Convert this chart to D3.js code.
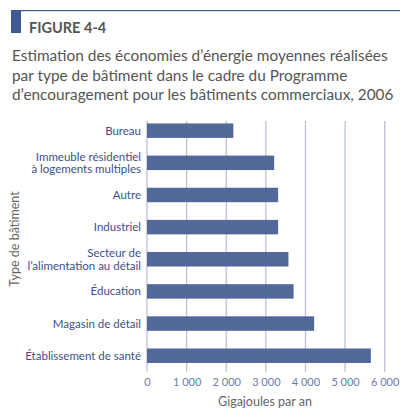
<!DOCTYPE html>
<html>
<head>
<meta charset="utf-8">
<script src="https://cdn.jsdelivr.net/npm/d3@7"></script>
<style>
  body { margin: 0; background: #fff; }
  svg { display: block; font-family: "Lato", "Open Sans", sans-serif; }
</style>
</head>
<body>
<div id="chart"></div>
<script>
// categories, top to bottom
var categories = [
  ["Bureau"],
  ["Immeuble résidentiel", "à logements multiples"],
  ["Autre"],
  ["Industriel"],
  ["Secteur de", "l’alimentation au détail"],
  ["Éducation"],
  ["Magasin de détail"],
  ["Établissement de santé"]
];
var savings = [2180, 3210, 3310, 3310, 3570, 3700, 4220, 5650];
var xTicks = [0, 1000, 2000, 3000, 4000, 5000, 6000];
var titleLines = [
  "Estimation des économies d’énergie moyennes réalisées",
  "par type de bâtiment dans le cadre du Programme",
  "d’encouragement pour les bâtiments commerciaux, 2006"
];

var width = 411, height = 419;
var svg = d3.select("#chart").append("svg")
  .attr("width", width)
  .attr("height", height);

// header
svg.append("rect").attr("x", 11).attr("y", 10).attr("width", 10).attr("height", 23).attr("fill", "#3f5a93");
svg.append("rect").attr("x", 21).attr("y", 10).attr("width", 379).attr("height", 1.2).attr("fill", "#3f5a93");
svg.append("text")
  .attr("x", 29).attr("y", 33)
  .attr("fill", "#555")
  .attr("font-size", 14.5)
  .attr("font-weight", 700)
  .text("FIGURE 4-4");

svg.append("g").selectAll("text")
  .data(titleLines)
  .join("text")
  .attr("x", 12)
  .attr("y", function(d, i) { return 61 + i * 19.5; })
  .attr("fill", "#555")
  .attr("font-size", 15)
  .text(function(d) { return d; })
  .each(function(d, i) {
    // keep the first line at the reference width
    if (i === 0) {
      var w = this.getComputedTextLength();
      var k = 376 / w;
      d3.select(this.parentNode).selectAll("text").attr("font-size", 15 * k);
    }
  });

var x = d3.scaleLinear().domain([0, 6000]).range([147, 384.7]);
var y = d3.scaleBand()
  .domain(d3.range(categories.length))
  .range([114.6, 371.8])
  .paddingInner(0.55)
  .paddingOuter(0.275);

// gridlines
svg.append("g").selectAll("line")
  .data(xTicks)
  .join("line")
  .attr("x1", function(d) { return x(d); })
  .attr("x2", function(d) { return x(d); })
  .attr("y1", 121)
  .attr("y2", 371.8)
  .attr("stroke", "#b9c1da")
  .attr("stroke-width", 1.3);

// bars
svg.append("g").selectAll("rect")
  .data(savings)
  .join("rect")
  .attr("x", x(0))
  .attr("y", function(d, i) { return y(i); })
  .attr("width", function(d) { return x(d) - x(0); })
  .attr("height", y.bandwidth())
  .attr("fill", "#526899");

// category labels
var labels = svg.append("g").selectAll("text")
  .data(categories)
  .join("text")
  .attr("text-anchor", "end")
  .attr("fill", "#3d4f86")
  .attr("font-size", 11.5)
  .attr("x", 141)
  .attr("y", function(d, i) {
    var c = y(i) + y.bandwidth() / 2;
    return c + 4 - (d.length - 1) * 6.25;
  });
labels.selectAll("tspan")
  .data(function(d) { return d; })
  .join("tspan")
  .attr("x", 141)
  .attr("dy", function(d, i) { return i === 0 ? 0 : 12.5; })
  .text(function(d) { return d; });

// x axis
var xAxis = d3.axisBottom(x)
  .tickValues(xTicks)
  .tickSize(0)
  .tickPadding(0)
  .tickFormat(function(d) { return d3.format(",")(d).replace(/,/g, " "); });
var gx = svg.append("g").attr("transform", "translate(0,378)").call(xAxis);
gx.select(".domain").remove();
gx.selectAll("text")
  .attr("dy", "0.71em")
  .attr("fill", "#6b7ca8")
  .attr("font-size", 11)
  .style("font-family", "Lato, 'Open Sans', sans-serif");

svg.append("text")
  .attr("x", 265).attr("y", 406)
  .attr("text-anchor", "middle")
  .attr("fill", "#666")
  .attr("font-size", 12.5)
  .text("Gigajoules par an");

svg.append("text")
  .attr("transform", "translate(19,239) rotate(-90)")
  .attr("text-anchor", "middle")
  .attr("fill", "#666")
  .attr("font-size", 12.5)
  .text("Type de bâtiment");
</script>
</body>
</html>
